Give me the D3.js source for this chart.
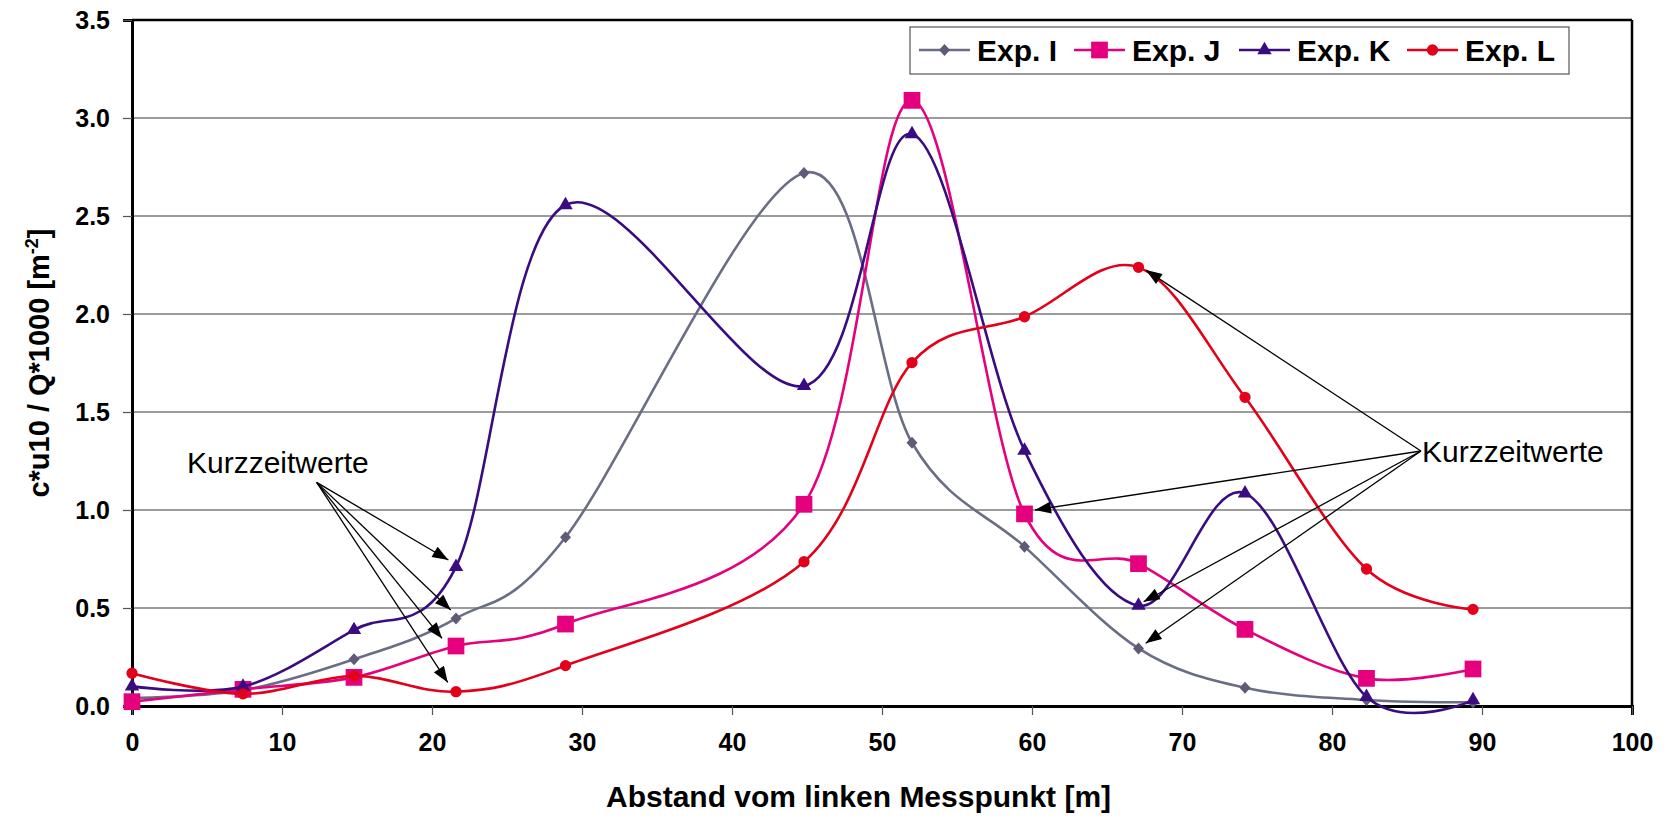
<!DOCTYPE html>
<html>
<head>
<meta charset="utf-8">
<script src="https://cdn.jsdelivr.net/npm/d3@7"></script>
<style>
  html, body { margin: 0; padding: 0; background: #fff; }
  svg { display: block; font-family: "Liberation Sans", Arial, sans-serif; }
</style>
</head>
<body>
<svg id="chart" width="1670" height="820"></svg>
<script>
// ---------- data ----------
const distances = [0, 7.4, 14.8, 21.6, 28.9, 44.8, 52.0, 59.5, 67.1, 74.2, 82.3, 89.4];
const seriesNames = ["Exp. I", "Exp. J", "Exp. K", "Exp. L"];
const expI = [0.04, 0.08, 0.238, 0.447, 0.861, 2.72, 1.343, 0.813, 0.294, 0.093, 0.031, 0.019];
const expJ = [0.022, 0.085, 0.146, 0.306, 0.418, 1.029, 3.09, 0.98, 0.726, 0.391, 0.141, 0.189];
const expK = [0.10, 0.099, 0.388, 0.71, 2.556, 1.633, 2.918, 1.303, 0.512, 1.085, 0.047, 0.03];
const expL = [0.167, 0.062, 0.153, 0.073, 0.206, 0.736, 1.752, 1.986, 2.238, 1.575, 0.699, 0.493];
const xTicks = [0, 10, 20, 30, 40, 50, 60, 70, 80, 90, 100];
const yTicks = [0, 0.5, 1.0, 1.5, 2.0, 2.5, 3.0, 3.5];
const annotationLabel = "Kurzzeitwerte";
// annotation arrows in data units: [originX, originY, tipX, tipY]
const leftArrows = [
  [12.31, 1.141, 21.09, 0.745],
  [12.31, 1.141, 21.25, 0.49],
  [12.31, 1.141, 20.67, 0.345],
  [12.31, 1.141, 21.05, 0.12]
];
const rightArrows = [
  [85.93, 1.301, 67.6, 2.224],
  [85.93, 1.301, 60.2, 1.0],
  [85.93, 1.301, 67.44, 0.532],
  [85.93, 1.301, 67.58, 0.32]
];
const xTitle = "Abstand vom linken Messpunkt [m]";

// ---------- layout ----------
const svg = d3.select("#chart");
const L = 132, R = 1632, T = 20, B = 706;
const x = d3.scaleLinear().domain([0, 100]).range([L, R]);
const y = d3.scaleLinear().domain([0, 3.5]).range([B, T]);

const styles = [
  { color: "#6a6e85", mcolor: "#5e5a78", shape: "diamond" },
  { color: "#e5007d", mcolor: "#e5007d", shape: "square" },
  { color: "#3a0c80", mcolor: "#3a0c80", shape: "triangle" },
  { color: "#e2001a", mcolor: "#e2001a", shape: "circle" }
];
const allSeries = [expI, expJ, expK, expL];

// gridlines
svg.append("g").selectAll("line")
  .data(yTicks.filter(v => v > 0 && v < 3.5))
  .join("line")
  .attr("x1", L).attr("x2", R)
  .attr("y1", d => y(d)).attr("y2", d => y(d))
  .attr("stroke", "#7a7a7a").attr("stroke-width", 1.5);

// frame top/right
svg.append("line").attr("x1", L).attr("x2", R).attr("y1", T).attr("y2", T)
  .attr("stroke", "#000").attr("stroke-width", 2.5);
svg.append("line").attr("x1", R).attr("x2", R).attr("y1", T).attr("y2", B)
  .attr("stroke", "#000").attr("stroke-width", 2.5);

// axes
const yAxis = d3.axisLeft(y).tickValues(yTicks).tickFormat(d3.format(".1f")).tickSize(9).tickPadding(13);
const gy = svg.append("g").attr("transform", `translate(${L},0)`).call(yAxis);
gy.select(".domain").attr("stroke", "#000").attr("stroke-width", 3);
gy.selectAll(".tick line").attr("stroke", "#555").attr("stroke-width", 1.2);
gy.selectAll(".tick text").attr("font-size", 25).attr("font-weight", "bold").attr("fill", "#000")
  .attr("font-family", "'Liberation Sans', Arial, sans-serif");

const xAxis = d3.axisBottom(x).tickValues(xTicks).tickFormat(d3.format("d")).tickSize(9).tickPadding(18);
const gx = svg.append("g").attr("transform", `translate(0,${B})`).call(xAxis);
gx.select(".domain").attr("stroke", "#000").attr("stroke-width", 3);
gx.selectAll(".tick line").attr("stroke", "#555").attr("stroke-width", 1.2);
gx.selectAll(".tick text").attr("font-size", 25).attr("font-weight", "bold").attr("fill", "#000")
  .attr("font-family", "'Liberation Sans', Arial, sans-serif");

// axis titles
svg.append("text").attr("x", 606).attr("y", 807)
  .attr("text-anchor", "start").attr("font-size", 30).attr("font-weight", "bold")
  .text(xTitle);

const yt = svg.append("text")
  .attr("transform", `translate(49,${(T + B) / 2}) rotate(-90)`)
  .attr("text-anchor", "middle").attr("font-size", 29).attr("font-weight", "bold");
yt.append("tspan").text("c*u10 / Q*1000 [m");
yt.append("tspan").attr("dy", -11).attr("font-size", 18).text("-2");
yt.append("tspan").attr("dy", 11).text("]");

// marker shapes
function symbolPath(shape) {
  if (shape === "diamond") return "M0,-6L5.5,0L0,6L-5.5,0Z";
  if (shape === "square") return d3.symbol(d3.symbolSquare, 280)();
  if (shape === "triangle") return d3.symbol(d3.symbolTriangle, 90)();
  return d3.symbol(d3.symbolCircle, 100)();
}

// lines
const line = d3.line().x(d => x(d[0])).y(d => y(d[1])).curve(d3.curveCardinal.tension(0));
allSeries.forEach((vals, i) => {
  const pts = distances.map((d, j) => [d, vals[j]]);
  const g = svg.append("g");
  g.append("path").datum(pts).attr("d", line)
    .attr("fill", "none").attr("stroke", styles[i].color).attr("stroke-width", 2.6);
  g.selectAll("path.m").data(pts).join("path").attr("class", "m")
    .attr("transform", d => `translate(${x(d[0])},${y(d[1])})`)
    .attr("d", symbolPath(styles[i].shape))
    .attr("fill", styles[i].mcolor);
});

// annotations
const defs = svg.append("defs");
defs.append("marker").attr("id", "arrow")
  .attr("viewBox", "0 0 16 12").attr("refX", 16).attr("refY", 6)
  .attr("markerWidth", 17).attr("markerHeight", 12)
  .attr("markerUnits", "userSpaceOnUse").attr("orient", "auto")
  .append("path").attr("d", "M0,0 L16,6 L0,12 Z").attr("fill", "#000");

function drawArrows(list) {
  svg.append("g").selectAll("line").data(list).join("line")
    .attr("x1", d => x(d[0])).attr("y1", d => y(d[1]))
    .attr("x2", d => x(d[2])).attr("y2", d => y(d[3]))
    .attr("stroke", "#000").attr("stroke-width", 1.3)
    .attr("marker-end", "url(#arrow)");
}
drawArrows(leftArrows);
drawArrows(rightArrows);

svg.append("text").attr("x", 187).attr("y", 473).attr("font-size", 30).text(annotationLabel);
svg.append("text").attr("x", 1422).attr("y", 462).attr("font-size", 30).text(annotationLabel);

// legend
const lg = svg.append("g");
lg.append("rect").attr("x", 910).attr("y", 27).attr("width", 659).attr("height", 47)
  .attr("fill", "#fff").attr("stroke", "#555").attr("stroke-width", 1.2);
const legendLineX = [919, 1074, 1239, 1407];
seriesNames.forEach((name, i) => {
  const lx = legendLineX[i];
  lg.append("line").attr("x1", lx).attr("x2", lx + 51).attr("y1", 50).attr("y2", 50)
    .attr("stroke", styles[i].color).attr("stroke-width", 2.6);
  lg.append("path").attr("transform", `translate(${lx + 25.5},50)`)
    .attr("d", symbolPath(styles[i].shape)).attr("fill", styles[i].mcolor);
  lg.append("text").attr("x", lx + 58).attr("y", 61)
    .attr("font-size", 30).attr("font-weight", "bold").text(name);
});
</script>
</body>
</html>
